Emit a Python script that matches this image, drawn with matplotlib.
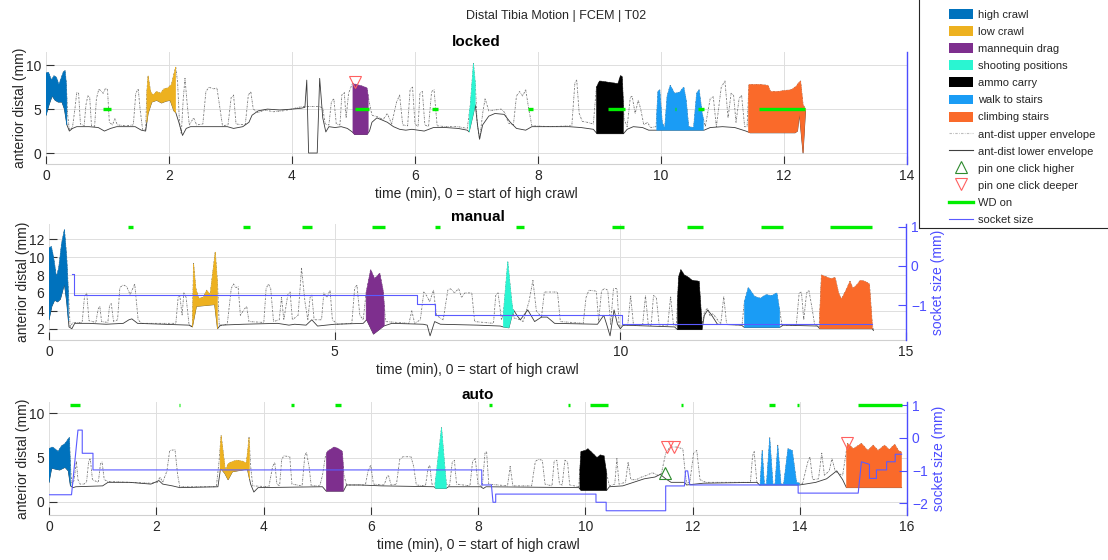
import numpy as np
import matplotlib
matplotlib.use("Agg")
import matplotlib.pyplot as plt
from matplotlib.patches import Patch
from matplotlib.lines import Line2D

plt.rcParams['font.family'] = ['Liberation Sans', 'DejaVu Sans']

# ---------------- data ----------------
activity_names = ["high crawl", "low crawl", "mannequin drag", "shooting positions",
                  "ammo carry", "walk to stairs", "climbing stairs"]
activity_colors = ["#0072BD", "#EDB120", "#7E2F8E", "#2AF5D2", "#000000", "#1A9CF5", "#FA6A2A"]

# ---- locked ----
locked_act = [(0.0, 0.34), (1.64, 2.11), (4.99, 5.24), (6.88, 6.98), (8.95, 9.39), (9.93, 10.69), (11.42, 12.35)]
locked_upper = [(0.00,9.1),(0.04,9.2),(0.09,8.3),(0.13,8.8),(0.17,8.6),(0.21,7.8),(0.25,8.6),(0.28,9.2),(0.31,9.4),(0.33,8.0),
 (0.35,4.5),(0.38,2.6),(0.43,2.9),(0.47,5.0),(0.50,6.9),(0.53,6.8),(0.56,3.3),(0.62,3.1),(0.65,5.5),(0.68,6.5),(0.71,6.4),
 (0.74,3.1),(0.79,3.0),(0.82,6.2),(0.86,7.3),(0.90,7.0),(0.93,6.8),(0.97,7.4),(1.00,7.2),(1.03,3.5),(1.08,3.2),(1.12,3.9),
 (1.16,3.2),(1.30,3.1),(1.42,3.2),(1.46,6.8),(1.50,7.3),(1.53,5.0),(1.57,2.7),(1.62,2.6),(1.64,7.0),(1.66,8.8),(1.70,7.0),
 (1.74,6.6),(1.80,7.0),(1.86,6.8),(1.92,7.3),(1.98,7.4),(2.04,7.8),(2.08,9.0),(2.11,9.8),(2.14,8.0),(2.17,3.5),(2.20,2.2),
 (2.23,6.0),(2.26,8.5),(2.29,6.0),(2.33,3.2),(2.40,4.0),(2.45,3.2),(2.55,3.3),(2.60,7.0),(2.65,7.5),(2.72,7.3),(2.78,7.4),
 (2.82,5.5),(2.87,3.1),(2.96,3.2),(3.01,6.3),(3.05,6.6),(3.09,3.3),(3.24,3.2),(3.29,6.6),(3.33,7.0),(3.37,5.0),(3.45,4.6),
 (3.55,4.9),(3.70,4.7),(3.85,4.8),(4.00,5.0),(4.10,5.2),(4.20,5.3),(4.45,5.3),(4.50,5.1),(4.54,3.3),(4.60,3.2),(4.64,5.8),
 (4.68,6.2),(4.72,3.3),(4.78,3.2),(4.81,6.6),(4.85,6.9),(4.88,4.0),(4.92,6.8),(4.98,7.9),(5.05,7.8),(5.15,7.6),(5.22,7.4),
 (5.25,6.0),(5.30,4.3),(5.40,4.1),(5.48,3.8),(5.55,4.5),(5.62,3.3),(5.70,5.8),(5.75,6.6),(5.80,3.2),(5.88,3.1),(5.92,7.2),
 (5.96,7.5),(6.00,3.3),(6.05,3.0),(6.08,6.8),(6.12,7.0),(6.16,3.2),(6.22,3.0),(6.27,7.0),(6.31,7.2),(6.36,3.1),(6.50,3.0),
 (6.70,3.0),(6.85,2.8),(6.90,5.5),(6.95,10.2),(6.98,8.0),(7.01,3.5),(7.05,1.5),(7.10,4.5),(7.14,6.2),(7.20,4.8),(7.30,4.9),
 (7.40,5.0),(7.46,4.6),(7.52,3.4),(7.60,3.2),(7.65,6.5),(7.70,7.0),(7.75,6.5),(7.80,7.2),(7.85,5.0),(7.90,3.1),(8.20,3.0),
 (8.55,3.1),(8.60,8.0),(8.63,8.3),(8.67,4.5),(8.72,3.6),(8.80,3.5),(8.90,3.3),(8.95,7.5),(9.00,8.2),(9.10,8.1),(9.20,8.0),
 (9.30,7.9),(9.34,8.8),(9.37,8.7),(9.40,3.8),(9.45,3.0),(9.50,6.3),(9.53,6.5),(9.58,4.5),(9.63,6.0),(9.67,5.0),(9.72,3.2),
 (9.78,3.5),(9.83,2.9),(9.92,3.0),(9.95,7.0),(9.98,7.2),(10.02,3.5),(10.06,2.8),(10.10,6.5),(10.15,7.7),(10.22,6.8),
 (10.30,6.9),(10.37,7.5),(10.41,6.0),(10.45,3.0),(10.53,2.9),(10.58,6.8),(10.62,7.2),(10.67,4.5),(10.72,3.0),(10.80,6.2),
 (10.85,6.4),(10.90,3.0),(10.98,7.5),(11.04,8.2),(11.09,4.0),(11.14,6.8),(11.18,6.6),(11.22,3.5),(11.27,6.2),(11.31,6.6),
 (11.36,3.0),(11.40,3.0),(11.43,7.8),(11.60,7.8),(11.74,7.7),(11.78,7.0),(11.90,7.0),(12.00,7.1),(12.12,7.2),(12.20,7.6),
 (12.24,8.0),(12.27,8.2),(12.31,5.5),(12.35,5.0)]
locked_lower = [(0.00,4.3),(0.05,5.5),(0.10,6.5),(0.15,6.0),(0.20,5.8),(0.26,5.8),(0.30,5.0),(0.34,3.2),(0.38,2.5),(0.43,2.8),
 (0.50,3.0),(0.70,3.0),(0.85,2.9),(0.95,2.5),(1.05,2.8),(1.15,3.0),(1.45,3.0),(1.55,2.6),(1.62,2.5),(1.66,4.5),(1.72,5.8),
 (1.80,6.0),(1.88,5.7),(1.95,5.9),(2.02,6.0),(2.08,4.8),(2.11,4.6),(2.16,3.5),(2.22,2.0),(2.28,2.8),(2.35,3.0),(2.95,3.0),
 (3.05,2.8),(3.20,3.0),(3.30,3.5),(3.35,4.3),(3.45,4.8),(3.60,5.0),(3.80,4.9),(4.00,5.0),(4.15,5.1),(4.21,5.2),(4.24,8.3),
 (4.27,0.0),(4.41,0.0),(4.45,8.5),(4.50,4.0),(4.55,2.4),(4.60,3.0),(4.70,2.9),(4.80,3.0),(4.90,2.8),(4.98,2.4),(5.02,2.1),
 (5.22,2.1),(5.26,2.5),(5.30,3.5),(5.38,4.0),(5.45,3.8),(5.55,3.5),(5.65,3.0),(5.75,2.7),(5.85,2.6),(5.95,2.7),(6.05,2.6),
 (6.15,2.5),(6.30,2.9),(6.50,2.9),(6.70,2.8),(6.85,2.6),(6.88,2.4),(6.95,4.5),(6.98,5.5),(7.02,3.0),(7.05,1.6),(7.10,3.2),
 (7.20,4.2),(7.30,4.5),(7.45,4.4),(7.55,3.5),(7.65,2.8),(7.80,2.6),(7.90,3.0),(8.50,3.0),(8.70,2.9),(8.90,2.7),(8.96,2.2),
 (9.39,2.2),(9.45,2.7),(9.55,3.0),(9.70,2.9),(9.80,2.6),(10.70,2.6),(10.80,2.9),(11.00,3.0),(11.20,2.9),(11.38,2.5),
 (11.45,2.3),(12.18,2.3),(12.22,2.5),(12.25,4.5),(12.31,0.0),(12.35,4.8)]
locked_wd = [(0.92,1.05),(5.02,5.25),(6.28,6.38),(7.84,7.92),(9.14,9.42),(10.22,10.25),(10.60,10.70),(11.60,12.34)]
locked_wd_level = 5.0
locked_deeper = [(5.03, 8.1)]

# ---- manual ----
manual_act = [(0.0, 0.34), (2.51, 2.95), (5.55, 5.87), (7.95, 8.13), (11.0, 11.43), (12.17, 12.79), (13.49, 14.41)]
manual_upper = [(0.00,11.0),(0.04,11.2),(0.08,10.0),(0.13,7.8),(0.17,8.8),(0.22,11.5),(0.27,13.1),(0.31,10.0),(0.34,6.0),
 (0.37,2.2),(0.42,2.7),(0.58,2.7),(0.62,5.5),(0.66,6.0),(0.70,2.9),(0.82,2.7),(0.86,4.2),(0.89,4.5),(0.92,2.8),(1.03,2.7),
 (1.06,4.6),(1.09,4.8),(1.13,2.8),(1.20,3.0),(1.24,6.6),(1.30,6.9),(1.36,6.7),(1.42,5.8),(1.50,7.0),(1.56,3.0),(1.62,2.6),
 (2.22,2.6),(2.26,5.5),(2.29,5.7),(2.33,3.5),(2.36,6.0),(2.40,5.5),(2.45,2.5),(2.51,2.2),(2.53,9.3),(2.57,6.5),(2.62,5.4),
 (2.70,5.5),(2.76,6.3),(2.82,5.8),(2.88,9.0),(2.91,10.6),(2.95,7.0),(2.98,2.3),(3.12,2.5),(3.19,6.5),(3.23,7.0),(3.27,6.6),
 (3.31,6.7),(3.35,3.5),(3.42,4.2),(3.46,4.5),(3.50,2.8),(3.76,2.7),(3.80,6.5),(3.84,7.0),(3.88,6.5),(3.93,2.8),(4.03,3.0),
 (4.07,5.5),(4.11,3.0),(4.18,5.8),(4.22,6.1),(4.26,3.0),(4.36,3.5),(4.42,8.75),(4.48,5.0),(4.53,3.0),(4.57,5.5),(4.60,5.8),
 (4.64,3.0),(4.77,3.0),(4.81,6.0),(4.86,5.5),(4.92,6.3),(4.96,3.0),(5.05,2.5),(5.30,2.6),(5.35,6.5),(5.39,6.9),(5.44,3.5),
 (5.50,3.0),(5.55,6.0),(5.63,8.6),(5.70,7.6),(5.79,8.2),(5.85,6.2),(5.89,2.8),(6.30,2.6),(6.35,4.0),(6.40,2.6),(6.50,3.0),
 (6.56,6.1),(6.62,5.6),(6.66,5.0),(6.73,6.3),(6.78,3.5),(6.90,3.0),(6.98,6.3),(7.02,6.5),(7.10,6.0),(7.17,6.5),(7.22,5.5),
 (7.28,6.0),(7.40,6.0),(7.45,2.8),(7.78,2.6),(7.82,5.8),(7.86,6.0),(7.92,3.0),(7.95,3.5),(8.03,9.5),(8.10,5.0),(8.14,3.2),
 (8.25,3.0),(8.30,2.8),(8.40,5.0),(8.47,7.4),(8.53,4.0),(8.62,3.3),(8.67,6.1),(8.90,6.1),(8.95,2.8),(9.35,2.6),(9.40,5.5),
 (9.45,6.3),(9.58,6.2),(9.62,2.8),(9.67,6.2),(9.72,6.5),(9.78,6.3),(9.83,2.5),(9.88,6.5),(9.94,6.5),(9.98,2.3),(10.13,2.4),
 (10.18,5.7),(10.23,2.4),(10.39,2.4),(10.44,5.7),(10.49,2.4),(10.54,2.4),(10.58,5.7),(10.63,5.5),(10.68,2.4),(10.83,2.4),
 (10.88,5.6),(10.93,2.4),(10.98,2.3),(11.02,7.8),(11.06,8.6),(11.12,8.0),(11.18,7.8),(11.26,7.4),(11.38,7.3),(11.43,2.5),
 (11.47,3.8),(11.52,4.3),(11.57,3.4),(11.62,3.7),(11.70,3.0),(11.76,2.6),(11.81,5.6),(11.86,2.5),(12.13,2.4),(12.17,5.0),
 (12.24,6.6),(12.35,5.6),(12.45,5.4),(12.55,5.8),(12.65,5.7),(12.74,6.0),(12.79,4.0),(12.83,2.4),(13.08,2.4),(13.13,6.0),
 (13.17,6.1),(13.21,3.0),(13.26,6.0),(13.30,6.3),(13.35,4.5),(13.40,2.5),(13.48,2.2),(13.52,8.0),(13.60,7.8),(13.68,7.6),
 (13.76,7.7),(13.82,6.0),(13.87,5.3),(13.95,6.3),(14.02,7.3),(14.07,6.5),(14.14,6.9),(14.20,7.4),(14.28,7.3),(14.36,7.0),
 (14.41,2.5),(14.43,1.8)]
manual_lower = [(0.00,3.0),(0.05,4.5),(0.10,5.2),(0.15,5.0),(0.20,5.3),(0.27,7.0),(0.31,5.0),(0.35,2.2),(0.40,2.0),(0.45,2.6),
 (0.70,2.6),(1.00,2.5),(1.30,2.6),(1.40,3.0),(1.45,3.1),(1.55,2.6),(2.00,2.5),(2.45,2.4),(2.51,2.2),(2.58,4.5),(2.75,4.6),
 (2.90,4.7),(2.95,2.0),(3.00,2.4),(3.40,2.5),(4.00,2.6),(4.20,2.4),(4.30,2.5),(4.50,2.4),(4.60,3.0),(4.70,2.3),(5.00,2.5),
 (5.50,2.6),(5.56,3.0),(5.68,1.4),(5.80,2.0),(5.86,2.3),(6.00,2.6),(6.55,2.5),(6.62,2.4),(6.67,1.2),(6.75,2.8),(6.85,2.5),
 (7.50,2.4),(7.90,2.3),(7.95,2.2),(8.05,2.1),(8.13,4.1),(8.20,3.4),(8.25,3.0),(8.38,4.1),(8.50,2.8),(8.62,3.3),(8.72,3.3),
 (8.85,2.6),(9.60,2.5),(9.71,3.5),(9.76,2.5),(9.82,1.2),(9.89,4.1),(9.95,2.5),(10.00,2.0),(10.05,2.4),(10.95,2.2),
 (11.00,1.9),(11.43,1.9),(11.47,3.5),(11.53,4.1),(11.60,3.5),(11.70,2.5),(12.12,2.4),(12.17,2.15),(12.79,2.15),(12.85,2.4),
 (13.45,2.3),(13.49,2.0),(14.41,2.0),(14.43,1.8)]
manual_socket_t = [0.41, 0.44, 6.44, 6.76, 10.03, 14.41]
manual_socket_v = [-0.20, -0.73, -0.98, -1.24, -1.48, -1.48]
manual_wd = [(1.39,1.47),(3.39,3.52),(4.42,4.61),(5.66,5.88),(6.76,6.84),(8.18,8.31),(9.85,10.06),(11.16,11.45),
             (12.46,12.85),(13.67,14.41)]
wd_right_level = 1.0

# ---- auto ----
auto_act = [(0.0, 0.40), (3.19, 3.74), (5.17, 5.49), (7.20, 7.41), (9.90, 10.40), (13.25, 13.99), (14.87, 15.90)]
auto_upper = [(0.00,6.0),(0.06,6.2),(0.11,6.0),(0.17,5.7),(0.23,6.3),(0.30,6.6),(0.38,7.3),(0.40,4.0),(0.43,1.8),(0.47,2.5),
 (0.51,4.6),(0.54,2.5),(0.58,2.0),(0.65,2.0),(0.70,2.2),(0.74,4.6),(0.77,4.9),(0.81,2.5),(0.92,2.2),(0.96,4.3),(0.99,4.5),
 (1.03,2.5),(1.10,2.3),(1.50,2.2),(1.90,2.1),(2.02,2.2),(2.07,2.8),(2.12,2.2),(2.20,3.5),(2.25,5.8),(2.35,5.9),(2.40,3.0),
 (2.44,1.7),(3.12,1.7),(3.17,4.5),(3.21,7.5),(3.25,5.5),(3.29,3.5),(3.34,4.3),(3.40,4.5),(3.50,4.7),(3.60,4.6),(3.68,4.4),
 (3.71,6.0),(3.73,7.3),(3.76,4.0),(3.80,1.8),(4.10,1.7),(4.17,4.0),(4.21,4.45),(4.25,2.0),(4.30,1.8),(4.34,4.8),(4.38,5.2),
 (4.49,5.1),(4.53,2.0),(4.72,1.8),(4.77,5.2),(4.80,5.6),(4.85,4.0),(4.89,1.8),(5.05,1.8),(5.10,3.0),(5.15,5.0),(5.19,5.7),
 (5.32,6.2),(5.40,6.0),(5.47,5.7),(5.50,3.0),(5.55,1.9),(5.90,1.9),(5.95,3.5),(6.00,4.15),(6.05,2.0),(6.25,1.9),(6.30,2.8),
 (6.33,3.0),(6.38,1.9),(6.48,2.0),(6.54,4.8),(6.60,5.1),(6.75,5.1),(6.80,4.0),(6.85,1.9),(7.02,1.8),(7.07,3.8),(7.10,4.15),
 (7.14,2.0),(7.20,2.0),(7.32,8.4),(7.38,4.0),(7.41,2.0),(7.47,1.8),(7.52,4.5),(7.56,4.7),(7.60,2.0),(7.85,1.8),(7.90,4.6),
 (7.95,4.9),(8.00,2.0),(8.08,1.7),(8.13,5.5),(8.16,5.7),(8.20,2.0),(8.55,1.8),(8.60,4.0),(8.65,1.8),(9.00,1.8),(9.07,4.6),
 (9.13,4.8),(9.20,4.7),(9.25,2.0),(9.38,1.8),(9.42,4.6),(9.47,4.7),(9.52,2.0),(9.57,1.9),(9.62,4.7),(9.67,4.5),(9.71,1.9),
 (9.88,1.7),(9.92,5.7),(10.00,5.8),(10.05,6.0),(10.12,5.6),(10.17,5.3),(10.22,5.0),(10.28,5.3),(10.35,5.2),(10.40,3.2),
 (10.45,1.8),(10.55,2.0),(10.59,4.9),(10.63,2.0),(10.75,2.2),(10.80,4.5),(10.85,2.5),(10.95,2.5),(11.05,2.8),(11.15,3.0),
 (11.25,3.3),(11.35,3.0),(11.42,3.2),(11.50,5.5),(11.58,6.2),(11.70,6.2),(11.82,6.0),(11.86,3.5),(11.89,2.1),(11.95,2.2),
 (12.02,5.5),(12.08,5.8),(12.14,2.5),(12.25,2.2),(13.08,2.2),(13.12,5.2),(13.15,5.7),(13.20,2.2),(13.26,1.9),(13.30,5.8),
 (13.34,2.0),(13.38,2.0),(13.44,7.25),(13.50,2.0),(13.54,2.0),(13.59,6.4),(13.65,2.0),(13.70,2.0),(13.78,6.0),(13.86,5.8),
 (13.94,2.2),(14.05,2.0),(14.15,4.5),(14.19,5.1),(14.24,2.5),(14.35,2.6),(14.41,5.5),(14.46,3.0),(14.55,3.5),(14.60,4.9),
 (14.66,3.5),(14.72,3.2),(14.80,3.0),(14.85,5.0),(14.89,6.6),(15.00,6.0),(15.15,6.6),(15.27,5.8),(15.37,6.4),(15.46,5.8),
 (15.58,6.4),(15.67,5.9),(15.77,6.5),(15.84,5.8),(15.90,5.6)]
auto_lower = [(0.00,2.2),(0.05,3.8),(0.12,3.7),(0.20,3.6),(0.30,3.9),(0.36,3.5),(0.40,1.8),(0.45,1.6),(0.50,1.7),(1.00,1.8),
 (1.10,2.2),(1.50,2.2),(1.90,2.0),(2.05,2.4),(2.12,2.0),(2.30,1.8),(2.44,1.6),(3.15,1.7),(3.20,3.8),(3.28,3.2),(3.34,2.5),
 (3.42,3.4),(3.70,3.7),(3.76,2.0),(3.82,1.1),(3.90,1.6),(5.10,1.7),(5.17,1.2),(5.49,1.2),(5.55,1.9),(5.80,1.9),(6.20,1.8),
 (7.18,1.7),(7.22,1.5),(7.40,1.5),(7.45,1.7),(8.05,1.7),(8.10,1.5),(8.15,1.7),(9.88,1.6),(9.92,1.3),(10.40,1.3),(10.45,1.7),
 (10.70,1.8),(10.90,2.2),(11.10,2.6),(11.30,2.8),(11.40,3.1),(11.50,2.6),(11.60,2.2),(11.85,2.2),(11.89,1.9),(12.20,2.1),
 (13.20,2.2),(13.25,1.9),(13.99,1.9),(14.10,2.0),(14.30,2.2),(14.50,2.6),(14.69,3.5),(14.80,2.5),(14.87,1.6),(15.90,1.6)]
auto_socket_t = [0.0,0.42,0.54,0.62,0.62,0.82,0.82,8.07,8.07,8.25,8.28,8.33,8.33,10.20,10.20,10.39,10.39,11.50,11.50,
                 11.85,11.87,11.91,11.95,13.97,13.97,15.09,15.15,15.30,15.30,15.43,15.43,15.62,15.62,15.78,15.78,15.90]
auto_socket_v = [-1.74,-1.74,0.24,0.24,-0.47,-0.47,-0.98,-0.98,-1.44,-1.44,-1.97,-1.97,-1.72,-1.72,-1.97,-1.97,-2.23,-2.23,
                 -1.47,-1.47,-1.01,-1.01,-1.44,-1.44,-1.69,-1.69,-0.73,-0.81,-1.24,-1.24,-0.98,-0.98,-0.73,-0.73,-0.50,-0.50]
auto_wd = [(0.40,0.57),(2.42,2.45),(4.52,4.56),(5.33,5.44),(8.21,8.27),(9.68,9.72),(10.09,10.43),(11.79,11.83),
           (13.42,13.53),(13.95,13.99),(15.09,15.90)]
auto_deeper = [(11.52, 6.2), (11.65, 6.15), (14.89, 6.6)]
auto_higher = [(11.49, 3.3)]

# ---------------- styling constants ----------------
W, H = 1108, 560
BLUE = "#4C4CFF"
SOCK = "#5A5AFF"
GREEN = "#00EE00"
GRID = "#DEDEDE"
TXT = "#262626"
UPPER_LS = (0, (2.2, 1.2, 0.6, 1.2))

fig = plt.figure(figsize=(W / 100, H / 100), dpi=100)


def px_axes(l, r, t, b):
    return fig.add_axes([l / W, 1 - b / H, (r - l) / W, (b - t) / H])


def draw_env(ax, upper, lower, acts):
    ut, uv = np.array(upper).T
    lt, lv = np.array(lower).T
    ax.plot(ut, uv, color="#707070", lw=0.6, ls=UPPER_LS, zorder=2)
    ax.plot(lt, lv, color="#3a3a3a", lw=0.6, zorder=2)
    for (a, b), c in zip(acts, activity_colors):
        g = np.linspace(a, b, 300)
        xs = np.concatenate([g, g[::-1]])
        ys = np.concatenate([np.interp(g, ut, uv), np.interp(g[::-1], lt, lv)])
        ax.fill(xs, ys, facecolor=c, edgecolor=c, lw=0.3, zorder=3, antialiased=True)


def style_left(ax, xlim, xticks, ylim, yticks):
    ax.set_xlim(*xlim)
    ax.set_ylim(*ylim)
    ax.set_xticks(xticks)
    ax.set_yticks(yticks)
    ax.grid(True, color=GRID, lw=0.7)
    ax.set_axisbelow(True)
    for s in ["top", "left", "right"]:
        ax.spines[s].set_visible(False)
    ax.spines["bottom"].set_color("#D0D0D0")
    ax.tick_params(direction="in", length=6, width=0.8, color="#333333", labelsize=10, labelcolor=TXT)
    ax.set_ylabel("anterior distal (mm)", fontsize=10, color=TXT, labelpad=-1)
    ax.set_xlabel("time (min), 0 = start of high crawl", fontsize=10, color=TXT, labelpad=3)


def style_right(axr, ylim, yticks, label=True):
    axr.set_ylim(*ylim)
    for s in ["top", "left", "bottom"]:
        axr.spines[s].set_visible(False)
    axr.spines["right"].set_color(BLUE)
    axr.spines["right"].set_linewidth(1.0)
    axr.set_yticks(yticks)
    axr.tick_params(axis="y", direction="in", length=6, width=0.8, color=BLUE, labelsize=10, labelcolor=BLUE)
    if label:
        axr.set_ylabel("socket size (mm)", fontsize=10, color=BLUE, labelpad=3)


def draw_wd(ax, segs, level):
    for a, b in segs:
        ax.plot([a, b], [level, level], color=GREEN, lw=2.4, solid_capstyle="butt", zorder=6)


# ---------------- locked ----------------
ax1 = px_axes(46, 907, 52, 164)
draw_env(ax1, locked_upper, locked_lower, locked_act)
draw_wd(ax1, locked_wd, locked_wd_level)
dt, dv = np.array(locked_deeper).T
ax1.plot(dt, dv, ls="none", marker="v", mfc="none", mec="#FF6060", ms=8.5, mew=0.8, zorder=7)
style_left(ax1, (0, 14), np.arange(0, 15, 2), (-1.25, 11.5), [0, 5, 10])
ax1.set_title("locked", fontsize=11, fontweight="bold", color="black", pad=4)
ax1r = ax1.twinx()
style_right(ax1r, (0, 1), [], label=False)

# ---------------- manual ----------------
ax2 = px_axes(49, 906, 224, 340)
draw_env(ax2, manual_upper, manual_lower, manual_act)
style_left(ax2, (0, 15), [0, 5, 10, 15], (0.74, 13.7), [2, 4, 6, 8, 10, 12])
ax2.set_title("manual", fontsize=11, fontweight="bold", color="black", pad=1)
ax2r = ax2.twinx()
ax2r.plot(manual_socket_t, manual_socket_v, drawstyle="steps-post", color=SOCK, lw=0.8, zorder=5)
draw_wd(ax2r, manual_wd, wd_right_level)
style_right(ax2r, (-1.89, 1.07), [-1, 0, 1])

# ---------------- auto ----------------
ax3 = px_axes(49, 907, 402, 515)
draw_env(ax3, auto_upper, auto_lower, auto_act)
dt, dv = np.array(auto_deeper).T
ax3.plot(dt, dv, ls="none", marker="v", mfc="none", mec="#FF6060", ms=8.5, mew=0.8, zorder=7)
ht, hv = np.array(auto_higher).T
ax3.plot(ht, hv, ls="none", marker="^", mfc="none", mec="#2E8B2E", ms=8.5, mew=0.8, zorder=7)
style_left(ax3, (0, 16), np.arange(0, 17, 2), (-1.5, 11.3), [0, 5, 10])
ax3.set_title("auto", fontsize=11, fontweight="bold", color="black", pad=1.5)
ax3r = ax3.twinx()
ax3r.plot(auto_socket_t, auto_socket_v, color=SOCK, lw=0.8, zorder=5)
draw_wd(ax3r, auto_wd, wd_right_level)
style_right(ax3r, (-2.36, 1.1), [-2, -1, 0, 1])

# ---------------- title ----------------
fig.text(556 / W, 1 - 16 / H, "Distal Tibia Motion | FCEM | T02", fontsize=9, color=TXT, ha="center", va="center")

# ---------------- legend ----------------
handles = [Patch(facecolor=c, edgecolor="none") for c in activity_colors]
handles += [
    Line2D([], [], color="#bdbdbd", lw=0.8, ls=UPPER_LS),
    Line2D([], [], color="#404040", lw=0.8),
    Line2D([], [], ls="none", marker="^", mfc="none", mec="#2E8B2E", ms=9, mew=0.8),
    Line2D([], [], ls="none", marker="v", mfc="none", mec="#FF6060", ms=9, mew=0.8),
    Line2D([], [], color=GREEN, lw=2.4),
    Line2D([], [], color=SOCK, lw=0.8),
]
labels = activity_names + ["ant-dist upper envelope", "ant-dist lower envelope", "pin one click higher",
                           "pin one click deeper", "WD on", "socket size"]
leg = fig.legend(handles, labels, loc="upper left", bbox_to_anchor=(949 / W, 1 - 9.0 / H),
                 frameon=False, fontsize=8, handlelength=2.15, handleheight=1.0, handletextpad=0.45,
                 labelspacing=0.57, borderpad=0, borderaxespad=0)
for t in leg.get_texts():
    t.set_color(TXT)
fig.add_artist(Line2D([919 / W, 919 / W], [1.0, 1 - 228 / H], transform=fig.transFigure, color="#262626", lw=0.8))
fig.add_artist(Line2D([919 / W, 1.0], [1 - 228 / H, 1 - 228 / H], transform=fig.transFigure, color="#262626", lw=0.8))

fig.savefig("out.png", dpi=100)
